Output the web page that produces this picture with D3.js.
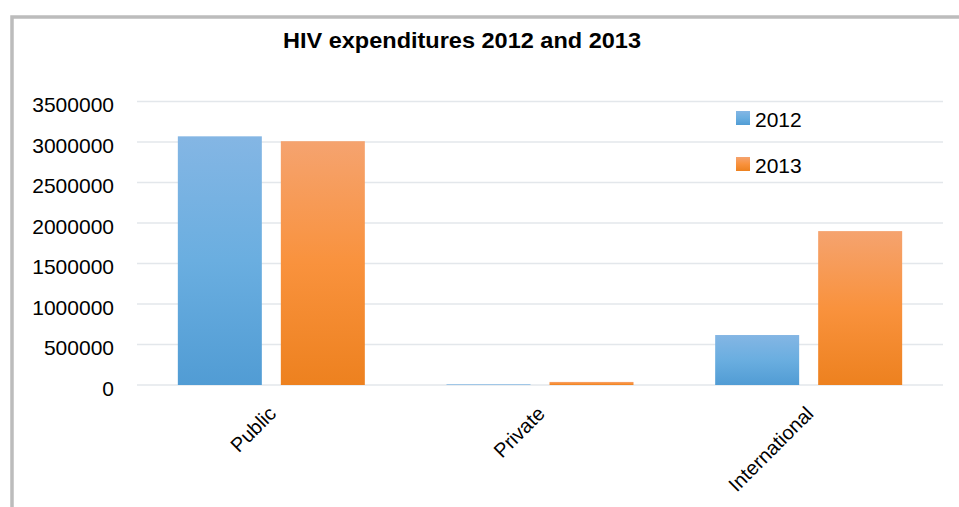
<!DOCTYPE html>
<html>
<head>
<meta charset="utf-8">
<script src="https://cdn.jsdelivr.net/npm/d3@7"></script>
<style>
  html, body { margin: 0; padding: 0; background: #ffffff; }
  svg { display: block; }
  text { font-family: "Liberation Sans", Arial, sans-serif; fill: #000; }
</style>
</head>
<body>
<svg id="chart" width="959" height="507"></svg>
<script>
// Chart data
const categories = ["Public", "Private", "International"];
const seriesNames = ["2012", "2013"];
const values2012 = [3070000, 8000, 617000];
const values2013 = [3010000, 38000, 1900000];
const yTickValues = [0, 500000, 1000000, 1500000, 2000000, 2500000, 3000000, 3500000];
const titleText = "HIV expenditures 2012 and 2013";

const seriesValues = [values2012, values2013];
const rows = categories.map((c, i) => ({
  category: c,
  values: seriesNames.map((s, j) => ({ series: s, value: seriesValues[j][i] }))
}));

const svg = d3.select("#chart");
const W = 959, H = 507;
const plot = { left: 137, right: 943, top: 101.5, bottom: 385 };

// Gradients for the two series (light at top, deeper at bottom)
const defs = svg.append("defs");
const gradStops = {
  "2012": ["#84b6e4", "#6aaee0", "#519cd4"],
  "2013": ["#f5a36f", "#f9923d", "#ed811f"]
};
seriesNames.forEach(s => {
  const g = defs.append("linearGradient")
    .attr("id", "grad" + s)
    .attr("x1", 0).attr("y1", 0).attr("x2", 0).attr("y2", 1);
  g.append("stop").attr("offset", "0%").attr("stop-color", gradStops[s][0]);
  g.append("stop").attr("offset", "50%").attr("stop-color", gradStops[s][1]);
  g.append("stop").attr("offset", "100%").attr("stop-color", gradStops[s][2]);
});

// Frame around the chart area
svg.append("path")
  .attr("d", `M12,${H + 5} L12,17 L${W + 5},17`)
  .attr("fill", "none")
  .attr("stroke", "#bcbcbc")
  .attr("stroke-width", 3.5);

// Scales
const x0 = d3.scaleBand()
  .domain(categories)
  .range([plot.left, plot.right])
  .paddingInner(0.304)
  .paddingOuter(0.152);

const x1 = d3.scaleBand()
  .domain(seriesNames)
  .range([0, x0.bandwidth()])
  .paddingInner(0.1845);

const y = d3.scaleLinear()
  .domain([0, 3500000])
  .range([plot.bottom, plot.top]);

// Gridlines
svg.append("g")
  .selectAll("line")
  .data(yTickValues)
  .join("line")
  .attr("x1", plot.left)
  .attr("x2", plot.right)
  .attr("y1", d => y(d))
  .attr("y2", d => y(d))
  .attr("stroke", "#e3e7eb")
  .attr("stroke-width", 1.6);

// Y axis labels
const yAxis = d3.axisLeft(y)
  .tickValues(yTickValues)
  .tickSize(0)
  .tickPadding(0)
  .tickFormat(d3.format("d"));

const yg = svg.append("g")
  .attr("transform", `translate(114,0)`)
  .call(yAxis);
yg.select(".domain").remove();
yg.selectAll("text")
  .attr("font-family", "Liberation Sans, Arial, sans-serif")
  .attr("font-size", 21)
  .attr("fill", "#000")
  .attr("dy", "0.48em");

// Bars
const groups = svg.append("g")
  .selectAll("g")
  .data(rows)
  .join("g")
  .attr("transform", d => `translate(${x0(d.category)},0)`);

groups.selectAll("rect")
  .data(d => d.values)
  .join("rect")
  .attr("x", d => x1(d.series))
  .attr("width", x1.bandwidth())
  .attr("y", d => y(d.value))
  .attr("height", d => y(0) - y(d.value))
  .attr("fill", d => `url(#grad${d.series})`);

// X axis labels, rotated
svg.append("g")
  .selectAll("text")
  .data(categories)
  .join("text")
  .attr("transform", d => `translate(${x0(d) + x0.bandwidth() / 2 + 6},415) rotate(-45)`)
  .attr("text-anchor", "end")
  .attr("font-size", 20)
  .text(d => d);

// Title
svg.append("text")
  .attr("x", 462)
  .attr("y", 48)
  .attr("text-anchor", "middle")
  .attr("font-weight", "bold")
  .attr("font-size", 22)
  .attr("textLength", 358)
  .attr("lengthAdjust", "spacingAndGlyphs")
  .text(titleText);

// Legend
const legend = svg.append("g")
  .selectAll("g")
  .data(seriesNames)
  .join("g")
  .attr("transform", (d, i) => `translate(736,${127 + i * 46})`);

legend.append("rect")
  .attr("x", 0)
  .attr("y", -16)
  .attr("width", 14)
  .attr("height", 14)
  .attr("fill", d => `url(#grad${d})`);

legend.append("text")
  .attr("x", 19)
  .attr("y", 0)
  .attr("font-size", 21)
  .text(d => d);
</script>
</body>
</html>
